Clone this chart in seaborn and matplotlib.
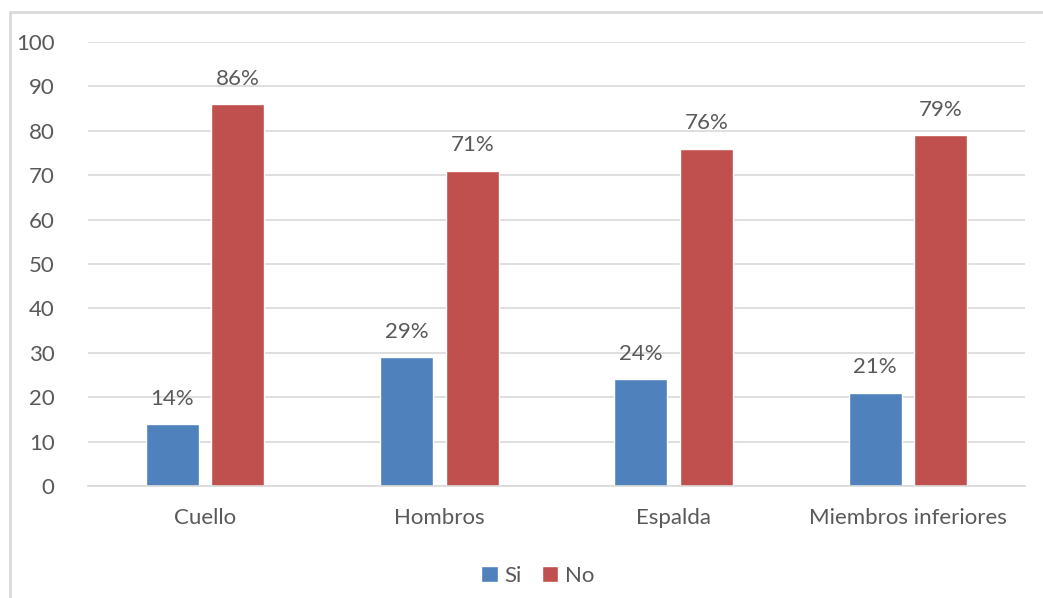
import matplotlib
matplotlib.use("Agg")
import matplotlib.pyplot as plt
import seaborn as sns
import pandas as pd
from matplotlib.patches import Rectangle

categories = ["Cuello", "Hombros", "Espalda", "Miembros inferiores"]
si_values = [14, 29, 24, 21]
no_values = [86, 71, 76, 79]
series_names = ["Si", "No"]
colors = ["#4f81bd", "#c0504d"]

df = pd.DataFrame({
    "categoria": categories * 2,
    "serie": [series_names[0]] * 4 + [series_names[1]] * 4,
    "valor": si_values + no_values,
})

sns.set_theme(style="white")
plt.rcParams["font.family"] = ["Lato", "DejaVu Sans"]
text_color = "#595959"
grid_color = "#d9d9d9"
fs = 16

fig = plt.figure(figsize=(10.43, 5.98), dpi=100)
ax = fig.add_axes([88 / 1043, 1 - 486 / 598, (1025 - 88) / 1043, (486 - 42) / 598])

sns.barplot(data=df, x="categoria", y="valor", hue="serie", order=categories,
            hue_order=series_names, palette=colors, width=0.56, gap=0.19,
            saturation=1, ax=ax, legend=True)

ax.set_ylim(0, 100)
ax.set_yticks(range(0, 101, 10))
ax.set_xlim(-0.5, 3.5)
ax.set_xlabel("")
ax.set_ylabel("")
ax.yaxis.grid(True, color=grid_color, linewidth=1.2)
ax.set_axisbelow(True)
for s in ["top", "right", "left"]:
    ax.spines[s].set_visible(False)
ax.spines["bottom"].set_color(grid_color)
ax.spines["bottom"].set_linewidth(1.2)
ax.tick_params(axis="both", length=0, labelsize=fs, colors=text_color)
ax.tick_params(axis="y", pad=24)
ax.tick_params(axis="x", pad=16)

for cont in ax.containers:
    labels = [f"{int(round(b.get_height()))}%" for b in cont]
    ax.bar_label(cont, labels=labels, padding=11, fontsize=fs, color=text_color)

leg = ax.legend(loc="upper center", bbox_to_anchor=(0.48, -0.135), ncol=2, frameon=False,
                fontsize=fs, handlelength=0.75, handleheight=0.75, handletextpad=0.3,
                columnspacing=0.9)
for t in leg.get_texts():
    t.set_color(text_color)

fig.patches.append(Rectangle((10 / 1043, -0.01), 1.0, 1 - 12 / 598 + 0.01,
                             transform=fig.transFigure, fill=False,
                             edgecolor=grid_color, linewidth=2))

fig.savefig("out.png", dpi=100)
